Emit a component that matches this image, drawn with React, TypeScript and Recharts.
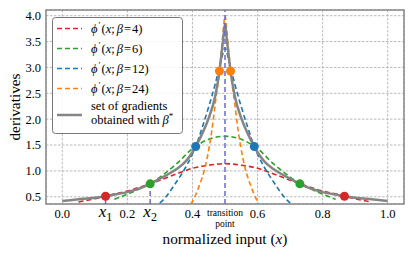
import React from 'react';
import { ComposedChart, Line, Scatter, XAxis, YAxis, CartesianGrid, Legend, ReferenceArea } from 'recharts';

const SERIF = '"Liberation Serif", "Times New Roman", Times, serif';

// curves: phi'(x; beta)
const RED_X = [0.05, 0.1, 0.133, 0.15, 0.2, 0.25, 0.3, 0.35, 0.4, 0.45, 0.5, 0.55, 0.6, 0.65, 0.7, 0.75, 0.8, 0.85, 0.867, 0.9, 0.95];
const RED_Y = [0.40, 0.46, 0.51, 0.54, 0.61, 0.71, 0.82, 0.94, 1.05, 1.11, 1.14, 1.11, 1.05, 0.94, 0.82, 0.71, 0.61, 0.54, 0.51, 0.46, 0.40];

const GREEN_X = [0.16, 0.2, 0.25, 0.27, 0.3, 0.35, 0.4, 0.45, 0.5, 0.55, 0.6, 0.65, 0.7, 0.73, 0.75, 0.8, 0.84];
const GREEN_Y = [0.45, 0.55, 0.69, 0.75, 0.88, 1.13, 1.43, 1.61, 1.67, 1.61, 1.43, 1.13, 0.88, 0.75, 0.69, 0.55, 0.45];

const BLUE_X = [0.3, 0.316, 0.35, 0.38, 0.41, 0.43, 0.45, 0.47, 0.48, 0.49, 0.5, 0.51, 0.52, 0.53, 0.55, 0.57, 0.59, 0.62, 0.65, 0.684, 0.7];
const BLUE_Y = [0.38, 0.48, 0.78, 1.08, 1.47, 1.84, 2.24, 2.68, 2.93, 3.18, 3.38, 3.18, 2.93, 2.68, 2.24, 1.84, 1.47, 1.08, 0.78, 0.48, 0.38];

const ORANGE_X = [0.395, 0.4, 0.42, 0.44, 0.452, 0.46, 0.47, 0.483, 0.49, 0.495, 0.5, 0.505, 0.51, 0.517, 0.53, 0.54, 0.548, 0.56, 0.58, 0.6, 0.605];
const ORANGE_Y = [0.36, 0.41, 0.70, 1.10, 1.48, 1.80, 2.30, 2.93, 3.40, 3.75, 4.00, 3.75, 3.40, 2.93, 2.30, 1.80, 1.48, 1.10, 0.70, 0.41, 0.36];

// set of gradients obtained with beta*
const GREY_X = [0, 0.05, 0.1, 0.133, 0.15, 0.2, 0.25, 0.27, 0.3, 0.35, 0.38, 0.4, 0.41, 0.43, 0.45, 0.47, 0.483, 0.49, 0.495, 0.5,
  0.505, 0.51, 0.517, 0.53, 0.55, 0.57, 0.59, 0.6, 0.62, 0.65, 0.7, 0.73, 0.75, 0.8, 0.85, 0.867, 0.9, 0.95, 1.0];
const GREY_Y = [0.42, 0.45, 0.48, 0.51, 0.53, 0.59, 0.69, 0.75, 0.85, 1.03, 1.19, 1.36, 1.47, 1.72, 2.02, 2.45, 2.93, 3.30, 3.58, 3.85,
  3.58, 3.30, 2.93, 2.45, 2.02, 1.72, 1.47, 1.36, 1.19, 1.03, 0.85, 0.75, 0.69, 0.59, 0.53, 0.51, 0.48, 0.45, 0.42];

// marked points
const RED_DOTS_X = [0.133, 0.867];
const RED_DOTS_Y = [0.51, 0.51];
const GREEN_DOTS_X = [0.27, 0.73];
const GREEN_DOTS_Y = [0.75, 0.75];
const BLUE_DOTS_X = [0.41, 0.59];
const BLUE_DOTS_Y = [1.47, 1.47];
const ORANGE_DOTS_X = [0.483, 0.517];
const ORANGE_DOTS_Y = [2.93, 2.93];

const X1 = 0.133;
const X2 = 0.27;
const TRANSITION = 0.5;

const X_GRID = [0, 0.2, 0.4, 0.6, 0.8, 1.0];
const X_TICKS = [0, X1, 0.2, X2, 0.4, TRANSITION, 0.6, 0.8, 1.0];
const Y_TICKS = [0.5, 1.0, 1.5, 2.0, 2.5, 3.0, 3.5, 4.0];
const X_DOMAIN: [number, number] = [-0.05, 1.05];
const Y_DOMAIN: [number, number] = [0.36, 4.11];

const LEGEND_BETAS = ['4', '6', '12', '24'];

const C_RED = '#d62728';
const C_GREEN = '#2ca02c';
const C_BLUE = '#1f77b4';
const C_ORANGE = '#ff7f0e';
const C_GREY = '#858585';
const C_PURPLE = '#6b6bcc';

const zip = (xs: number[], ys: number[]) => xs.map((x, i) => ({ x, y: ys[i] }));

const redData = zip(RED_X, RED_Y);
const greenData = zip(GREEN_X, GREEN_Y);
const blueData = zip(BLUE_X, BLUE_Y);
const orangeData = zip(ORANGE_X, ORANGE_Y);
const greyData = zip(GREY_X, GREY_Y);
const x1Line = [{ x: X1, y: Y_DOMAIN[0] }, { x: X1, y: RED_DOTS_Y[0] }];
const x2Line = [{ x: X2, y: Y_DOMAIN[0] }, { x: X2, y: GREEN_DOTS_Y[0] }];
const tLine = [{ x: TRANSITION, y: Y_DOMAIN[0] }, { x: TRANSITION, y: Y_DOMAIN[1] }];

const XTick = (props: any) => {
  const { x, y, payload } = props;
  const v = payload.value;
  if (v === X1 || v === X2) {
    return (
      <text x={x} y={y + 13} textAnchor="middle" fontFamily={SERIF} fontSize={17} fill="#000">
        <tspan fontStyle="italic">x</tspan>
        <tspan fontSize={12} dy={3.5}>{v === X1 ? '1' : '2'}</tspan>
      </text>
    );
  }
  if (v === TRANSITION) {
    return (
      <g>
        <text x={x} y={y + 12} textAnchor="middle" fontFamily={SERIF} fontSize={9.5} fill="#000">transition</text>
        <text x={x} y={y + 22.5} textAnchor="middle" fontFamily={SERIF} fontSize={9.5} fill="#000">point</text>
      </g>
    );
  }
  return (
    <text x={x} y={y + 14} textAnchor="middle" fontFamily={SERIF} fontSize={12.5} fill="#000">{v.toFixed(1)}</text>
  );
};

const LegendMath = ({ x, y, beta }: { x: number; y: number; beta: string }) => (
  <text x={x} y={y} fontFamily={SERIF} fontSize={12.5} fill="#000">
    <tspan fontStyle="italic">ϕ</tspan>
    <tspan fontSize={9} dy={-5} dx={1}>′</tspan>
    <tspan dy={5} dx={1}>(</tspan>
    <tspan fontStyle="italic">x</tspan>
    <tspan>;</tspan>
    <tspan fontStyle="italic" dx={2}>β</tspan>
    <tspan dx={1}>=</tspan>
    <tspan dx={1}>{beta}</tspan>
    <tspan>)</tspan>
  </text>
);

const LegendBox = () => {
  const colors = [C_RED, C_GREEN, C_BLUE, C_ORANGE];
  const rows = [11.5, 31.5, 51.5, 71.5];
  return (
    <svg width={131} height={117} style={{ display: 'block' }}>
      <rect x={0.5} y={0.5} width={130} height={116} rx={3} fill="#fff" fillOpacity={0.85} stroke="#777" strokeWidth={1} />
      {colors.map((c, i) => (
        <g key={c}>
          <line x1={5} x2={30} y1={rows[i]} y2={rows[i]} stroke={c} strokeWidth={1.6} strokeDasharray="5 3" />
          <LegendMath x={39} y={rows[i] + 4.5} beta={LEGEND_BETAS[i]} />
        </g>
      ))}
      <line x1={5} x2={30} y1={98} y2={98} stroke={C_GREY} strokeWidth={2.5} />
      <text x={39} y={93} fontFamily={SERIF} fontSize={12.5} fill="#000">set of gradients</text>
      <text x={39} y={107} fontFamily={SERIF} fontSize={12.5} fill="#000">
        obtained with <tspan fontStyle="italic">β</tspan><tspan fontSize={9} dy={-5}>*</tspan>
      </text>
    </svg>
  );
};

const YLabel = (props: any) => {
  const vb = props.viewBox || { x: 0, y: 10, width: 46, height: 194 };
  const cy = vb.y + vb.height / 2;
  return (
    <text x={20} y={cy} transform={`rotate(-90, 20, ${cy})`} textAnchor="middle" fontFamily={SERIF} fontSize={15.3} fill="#000">derivatives</text>
  );
};

const XLabel = (props: any) => {
  const vb = props.viewBox || { x: 46, y: 204, width: 357, height: 56 };
  const cx = vb.x + vb.width / 2;
  return (
    <text x={cx} y={243.5} textAnchor="middle" fontFamily={SERIF} fontSize={15.3} fill="#000">
      normalized input (<tspan fontStyle="italic">x</tspan>)
    </text>
  );
};

const dashed = { strokeWidth: 1.6, strokeDasharray: '5 3', dot: false, activeDot: false, isAnimationActive: false, type: 'monotone' as const };

export default function App() {
  return (
    <div style={{ position: 'absolute', left: 0, top: 0, width: 415, height: 260, background: '#fff' }}>
      <ComposedChart width={415} height={260} margin={{ top: 10, right: 11, bottom: 0, left: 0 }}>
        <XAxis xAxisId="grid" type="number" dataKey="x" domain={X_DOMAIN} allowDataOverflow ticks={X_GRID} hide />
        <XAxis
          type="number"
          dataKey="x"
          domain={X_DOMAIN}
          allowDataOverflow
          ticks={X_TICKS}
          interval={0}
          tick={<XTick />}
          tickLine={false}
          axisLine={false}
          tickSize={0}
          tickMargin={0}
          height={56}
          label={<XLabel />}
        />
        <YAxis
          type="number"
          dataKey="y"
          domain={Y_DOMAIN}
          allowDataOverflow
          ticks={Y_TICKS}
          interval={0}
          width={46}
          tickLine={false}
          axisLine={false}
          tickSize={0}
          tickMargin={5}
          tickFormatter={(v: number) => v.toFixed(1)}
          tick={{ fontSize: 12.5, fill: '#000', fontFamily: SERIF }}
          label={<YLabel />}
        />
        <CartesianGrid xAxisId="grid" stroke="#a8a8a8" strokeWidth={0.8} strokeDasharray="2.5 1.5" />
        <Line data={redData} dataKey="y" stroke={C_RED} {...dashed} />
        <Line data={greenData} dataKey="y" stroke={C_GREEN} {...dashed} />
        <Line data={blueData} dataKey="y" stroke={C_BLUE} {...dashed} />
        <Line data={orangeData} dataKey="y" stroke={C_ORANGE} {...dashed} />
        <Line data={greyData} dataKey="y" stroke={C_GREY} strokeWidth={2.5} dot={false} activeDot={false} isAnimationActive={false} type="monotone" />
        <Line data={x1Line} dataKey="y" stroke={C_PURPLE} strokeWidth={1.5} strokeDasharray="5 3" dot={false} activeDot={false} isAnimationActive={false} />
        <Line data={x2Line} dataKey="y" stroke={C_PURPLE} strokeWidth={1.5} strokeDasharray="5 3" dot={false} activeDot={false} isAnimationActive={false} />
        <Line data={tLine} dataKey="y" stroke={C_PURPLE} strokeWidth={1.5} strokeDasharray="5 3" dot={false} activeDot={false} isAnimationActive={false} />
        <Scatter data={zip(RED_DOTS_X, RED_DOTS_Y)} fill={C_RED} isAnimationActive={false} />
        <Scatter data={zip(GREEN_DOTS_X, GREEN_DOTS_Y)} fill={C_GREEN} isAnimationActive={false} />
        <Scatter data={zip(BLUE_DOTS_X, BLUE_DOTS_Y)} fill={C_BLUE} isAnimationActive={false} />
        <Scatter data={zip(ORANGE_DOTS_X, ORANGE_DOTS_Y)} fill={C_ORANGE} isAnimationActive={false} />
        <ReferenceArea x1={X_DOMAIN[0]} x2={X_DOMAIN[1]} y1={Y_DOMAIN[0]} y2={Y_DOMAIN[1]} fill="none" stroke="#888" strokeWidth={1.5} />
        <Legend
          layout="horizontal"
          verticalAlign="middle"
          align="center"
          content={() => <LegendBox />}
          wrapperStyle={{ position: 'absolute', left: 52, top: 17, width: 131, height: 117 }}
        />
      </ComposedChart>
    </div>
  );
}
